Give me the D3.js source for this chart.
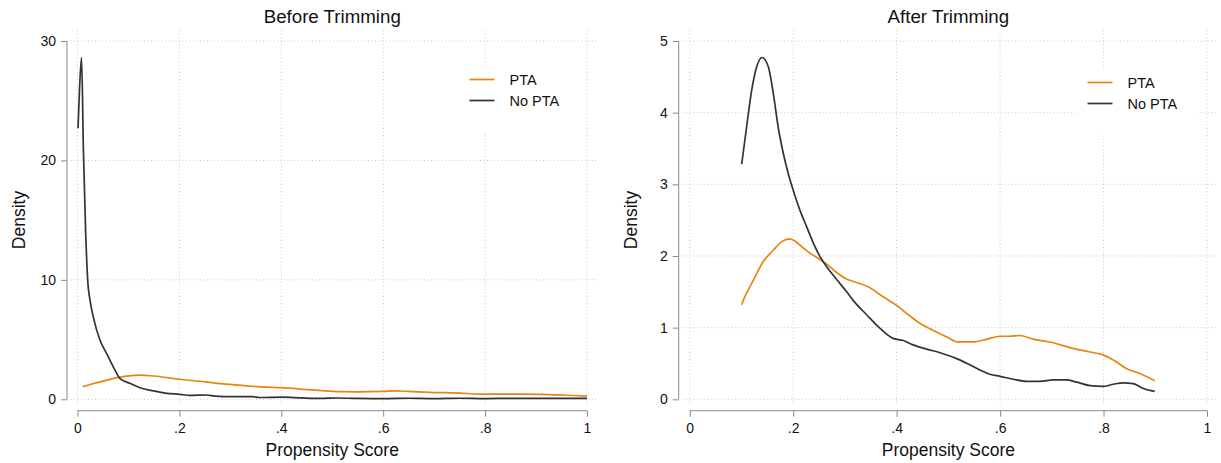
<!DOCTYPE html>
<html><head><meta charset="utf-8">
<script src="https://cdn.jsdelivr.net/npm/d3@7"></script>
<style>
html,body{margin:0;padding:0;background:#fff;}
text{font-family:"Liberation Sans",Arial,sans-serif;fill:#111;}
</style></head>
<body>
<svg id="chart" width="1221" height="463"></svg>
<script>
// ---- data ----
const xTickValues = [0, 0.2, 0.4, 0.6, 0.8, 1];
const xTickLabels = ["0", ".2", ".4", ".6", ".8", "1"];
const seriesNames = ["PTA", "No PTA"];

const beforeYTicks = [0, 10, 20, 30];
const beforePTA_x = [0.010,0.03,0.05,0.08,0.10,0.1225,0.15,0.20,0.25,0.273,0.30,0.37,0.40,0.436,0.475,0.515,0.55,0.60,0.626,0.65,0.691,0.75,0.789,0.85,0.907,0.953,1.0];
const beforePTA_y = [1.06,1.30,1.52,1.84,1.96,2.03,1.95,1.68,1.46,1.34,1.25,1.02,0.98,0.86,0.74,0.64,0.63,0.66,0.70,0.66,0.58,0.52,0.44,0.43,0.42,0.36,0.26];
const beforeNo_x = [0.001,0.004,0.008,0.0115,0.016,0.020,0.025,0.031,0.044,0.057,0.0735,0.083,0.103,0.1225,0.149,0.175,0.201,0.22,0.253,0.27,0.305,0.344,0.357,0.402,0.44,0.475,0.51,0.55,0.60,0.65,0.70,0.75,0.80,0.85,0.90,0.95,1.0];
const beforeNo_y = [22.7,26.0,28.6,21.0,14.0,10.0,8.2,6.9,4.97,3.85,2.45,1.76,1.34,0.97,0.70,0.50,0.42,0.33,0.36,0.27,0.22,0.22,0.15,0.18,0.12,0.08,0.11,0.07,0.06,0.09,0.05,0.09,0.06,0.08,0.07,0.08,0.07];

const afterYTicks = [0, 1, 2, 3, 4, 5];
const afterPTA_x = [0.1005,0.1036,0.123,0.142,0.1616,0.1778,0.1925,0.2035,0.2164,0.2325,0.252,0.268,0.284,0.300,0.3227,0.345,0.374,0.400,0.419,0.445,0.471,0.497,0.519,0.548,0.575,0.600,0.619,0.638,0.664,0.696,0.741,0.774,0.799,0.819,0.844,0.870,0.899];
const afterPTA_y = [1.32,1.38,1.66,1.92,2.08,2.20,2.24,2.21,2.13,2.04,1.95,1.87,1.77,1.69,1.63,1.57,1.43,1.31,1.20,1.06,0.96,0.87,0.80,0.80,0.84,0.88,0.88,0.89,0.84,0.80,0.71,0.66,0.62,0.55,0.43,0.36,0.26];
const afterNo_x = [0.1005,0.110,0.1198,0.1295,0.140,0.152,0.1616,0.171,0.181,0.1905,0.200,0.213,0.226,0.239,0.252,0.2647,0.2775,0.290,0.3034,0.316,0.342,0.368,0.393,0.413,0.432,0.458,0.484,0.522,0.542,0.561,0.580,0.600,0.625,0.651,0.677,0.703,0.728,0.748,0.774,0.799,0.819,0.838,0.857,0.877,0.899];
const afterNo_y = [3.28,3.80,4.31,4.64,4.77,4.64,4.27,3.80,3.43,3.15,2.92,2.64,2.41,2.18,1.99,1.85,1.73,1.62,1.50,1.38,1.18,0.99,0.85,0.82,0.76,0.70,0.65,0.55,0.48,0.41,0.35,0.32,0.28,0.25,0.25,0.27,0.27,0.24,0.19,0.18,0.21,0.23,0.22,0.15,0.11];

// ---- styling ----
const colorPTA = "#e8850e";
const colorNo = "#333333";
const axisColor = "#8a8a8a";
const gridColor = "#c8c8c8";

const svg = d3.select("#chart");

function panel(cfg) {
  const g = svg.append("g");
  const x = d3.scaleLinear().domain([0, 1]).range([cfg.x0, cfg.x1]);
  const y = d3.scaleLinear().domain([0, cfg.yMax]).range([399.3, 41]);

  // grid
  g.append("g").selectAll("line").data(cfg.yTicks).join("line")
    .attr("x1", cfg.x0 - 7).attr("x2", cfg.x1 + 11)
    .attr("y1", d => y(d)).attr("y2", d => y(d))
    .attr("stroke", gridColor).attr("stroke-width", 1).attr("stroke-dasharray", "1,2.5");
  g.append("g").selectAll("line").data(xTickValues).join("line")
    .attr("x1", d => x(d)).attr("x2", d => x(d))
    .attr("y1", 30).attr("y2", 405)
    .attr("stroke", gridColor).attr("stroke-width", 1).attr("stroke-dasharray", "1,2.5");

  // legend box background
  g.append("rect").attr("x", cfg.legX - 12).attr("y", cfg.legY - 13)
    .attr("width", 122).attr("height", 66).attr("fill", "#fff");

  // y axis
  const yAxis = d3.axisLeft(y).tickValues(cfg.yTicks).tickSize(6).tickPadding(5).tickFormat(d3.format("d"));
  const ya = g.append("g").attr("transform", `translate(${cfg.yAxisX},0)`).call(yAxis);
  ya.select(".domain").attr("stroke", axisColor).attr("d", `M0,${y(0)}V${y(cfg.yMax)}`);
  ya.selectAll(".tick line").attr("stroke", axisColor);
  ya.selectAll(".tick text").attr("font-size", 14).attr("fill", "#111")
    .attr("font-family", "'Liberation Sans', Arial, sans-serif");

  // x axis
  const xAxis = d3.axisBottom(x).tickValues(xTickValues).tickSize(6).tickPadding(6)
    .tickFormat((d, i) => xTickLabels[i]);
  const xa = g.append("g").attr("transform", `translate(0,410.7)`).call(xAxis);
  xa.select(".domain").attr("stroke", axisColor).attr("d", `M${cfg.x0},0H${cfg.x1}`);
  xa.selectAll(".tick line").attr("stroke", axisColor);
  xa.selectAll(".tick text").attr("font-size", 14).attr("fill", "#111")
    .attr("font-family", "'Liberation Sans', Arial, sans-serif");

  // curves
  const line = d3.line().x(d => x(d[0])).y(d => y(d[1])).curve(d3.curveMonotoneX);
  const ptaData = cfg.ptaX.map((v, i) => [v, cfg.ptaY[i]]);
  const noData = cfg.noX.map((v, i) => [v, cfg.noY[i]]);
  g.append("path").datum(ptaData).attr("d", line).attr("fill", "none")
    .attr("stroke", colorPTA).attr("stroke-width", 1.7);
  g.append("path").datum(noData).attr("d", line).attr("fill", "none")
    .attr("stroke", colorNo).attr("stroke-width", 1.7);

  // legend
  const leg = g.append("g");
  [colorPTA, colorNo].forEach((c, i) => {
    const ly = cfg.legY + i * 21;
    leg.append("line").attr("x1", cfg.legX).attr("x2", cfg.legX + 25)
      .attr("y1", ly).attr("y2", ly).attr("stroke", c).attr("stroke-width", 1.7);
    leg.append("text").attr("x", cfg.legX + 40).attr("y", ly + 5)
      .attr("font-size", 14.5).text(seriesNames[i]);
  });

  // titles
  const cx = (cfg.x0 + cfg.x1) / 2;
  g.append("text").attr("x", cx).attr("y", 23).attr("text-anchor", "middle")
    .attr("font-size", 18.7).text(cfg.title);
  g.append("text").attr("x", cx).attr("y", 456).attr("text-anchor", "middle")
    .attr("font-size", 17.5).text("Propensity Score");
  g.append("text").attr("transform", `translate(${cfg.yAxisX - 42},220) rotate(-90)`)
    .attr("text-anchor", "middle").attr("font-size", 17.5).text("Density");
}

panel({title: "Before Trimming", x0: 77.5, x1: 587, yAxisX: 67, yMax: 30, yTicks: beforeYTicks,
  ptaX: beforePTA_x, ptaY: beforePTA_y, noX: beforeNo_x, noY: beforeNo_y, legX: 469.5, legY: 79.5});
panel({title: "After Trimming", x0: 689.7, x1: 1207, yAxisX: 678.7, yMax: 5, yTicks: afterYTicks,
  ptaX: afterPTA_x, ptaY: afterPTA_y, noX: afterNo_x, noY: afterNo_y, legX: 1087.5, legY: 82.5});
</script>
</body></html>
